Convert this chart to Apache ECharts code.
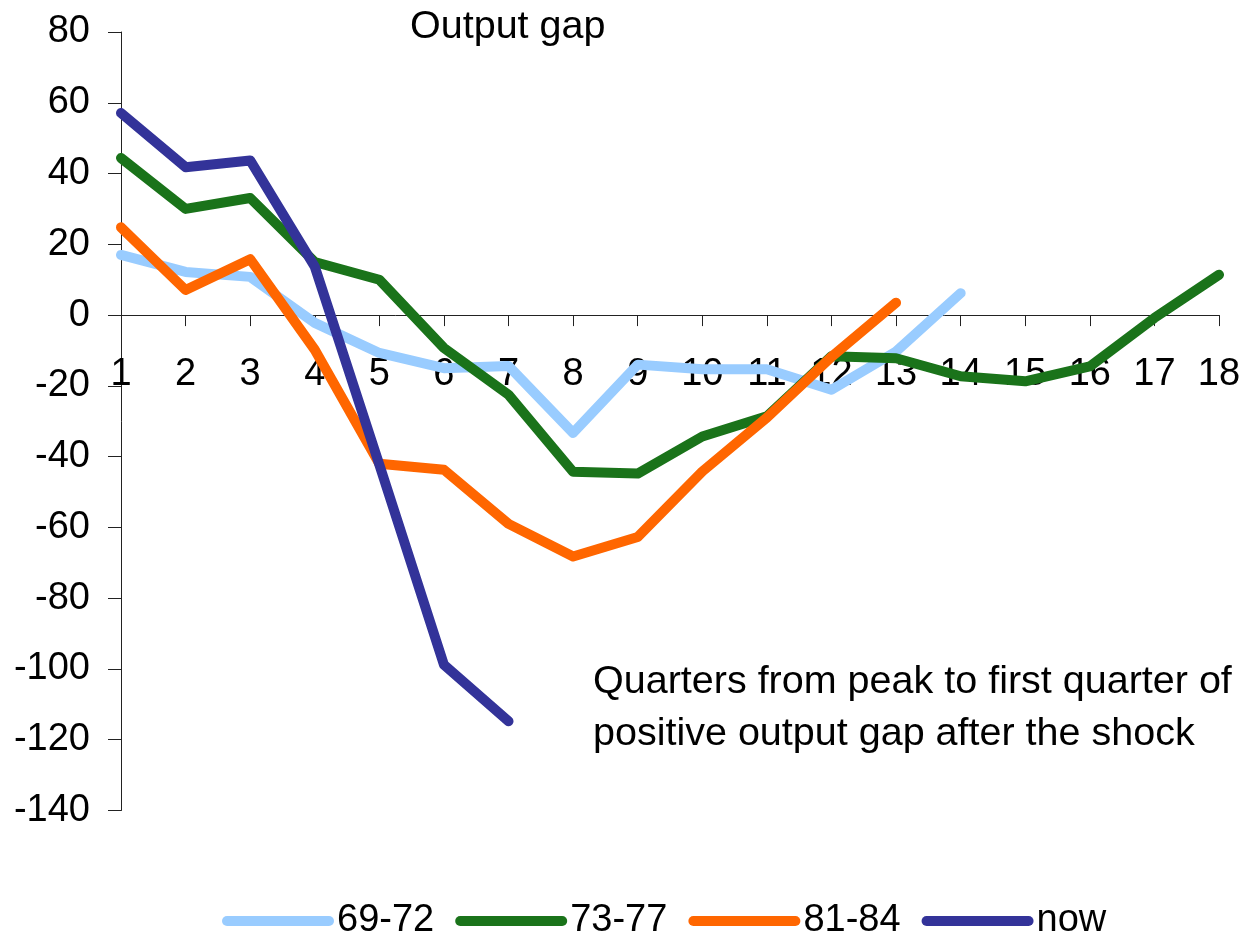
<!DOCTYPE html>
<html>
<head>
<meta charset="utf-8">
<title>Output gap</title>
<script src="https://cdn.jsdelivr.net/npm/echarts@6/dist/echarts.min.js"></script>
<style>
  html, body { margin: 0; padding: 0; background: #fff; }
  #chart { width: 1247px; height: 942px; }
</style>
</head>
<body>
<div id="chart"></div>
<script>
// Quarters after the peak
const quarters = ['1','2','3','4','5','6','7','8','9','10','11','12','13','14','15','16','17','18'];

// Output gap paths for each episode (missing quarters left empty)
const s6972 = [17, 12.2, 10.8, -2.2, -10.7, -15, -14.4, -33.3, -14, -15.3, -15.3, -21.1, -10.3, 6.2];
const s7377 = [44.4, 30, 33.1, 15, 10, -9.3, -22.5, -44.3, -44.8, -34.3, -28.6, -11.6, -12.2, -17.3, -18.7, -14.5, -0.8, 11.4];
const s8184 = [24.8, 7.1, 15.8, -9.8, -42, -43.7, -59, -68.2, -62.7, -44.2, -29, -11.8, 3.5];
const sNow  = [57.1, 41.8, 43.7, 13.7, -42.3, -98.8, -114.8];

const seriesNames = ['69-72', '73-77', '81-84', 'now'];
const seriesColors = ['#99ccff', '#1a731a', '#ff6600', '#333399'];
const seriesData = [s6972, s7377, s8184, sNow];

// y-axis range
const Y_MIN = -140, Y_MAX = 80, Y_STEP = 20;

const FONT = 'Liberation Sans, Arial, sans-serif';
const FS = 38;
const FS_NOTE = 39.5;

const GRID = { left: 121, right: 28, top: 32, bottom: 131.5 };
const plotH = 942 - GRID.top - GRID.bottom;
// shift the category axis up so it sits on the zero line
const zeroOffset = -plotH * (0 - Y_MIN) / (Y_MAX - Y_MIN);

const chart = echarts.init(document.getElementById('chart'), null, { renderer: 'canvas' });

const capsule = 'path://M5,0 H107 A5,5 0 0 1 107,10 H5 A5,5 0 0 1 5,0 Z';

chart.setOption({
  animation: false,
  backgroundColor: '#ffffff',
  grid: Object.assign({ containLabel: false }, GRID),
  legend: {
    top: 897,
    left: 217,
    itemWidth: 112,
    itemHeight: 10,
    itemGap: 21,
    icon: capsule,
    textStyle: { fontFamily: FONT, fontSize: FS, color: '#000', padding: [0, 0, 0, -2] },
    data: seriesNames.map(n => ({ name: n, icon: capsule }))
  },
  xAxis: {
    type: 'category',
    data: quarters,
    boundaryGap: false,
    offset: zeroOffset,
    axisLine: { onZero: false, lineStyle: { color: '#222', width: 1 } },
    axisTick: { show: true, length: 11, inside: false, lineStyle: { color: '#222' } },
    axisLabel: { fontFamily: FONT, fontSize: FS, color: '#000', margin: 40, interval: 0 },
    splitLine: { show: false }
  },
  yAxis: {
    type: 'value',
    min: Y_MIN,
    max: Y_MAX,
    interval: Y_STEP,
    axisLine: { show: true, lineStyle: { color: '#222', width: 1 } },
    axisTick: { show: true, length: 13, lineStyle: { color: '#222' } },
    axisLabel: { fontFamily: FONT, fontSize: FS, color: '#000', margin: 31 },
    splitLine: { show: false }
  },
  graphic: [
    {
      type: 'text',
      left: 410,
      top: 7,
      style: { text: 'Output gap', font: FS_NOTE + 'px ' + FONT, fill: '#000' }
    },
    {
      type: 'text',
      left: 593,
      top: 656,
      style: {
        text: 'Quarters from peak to first quarter of\npositive output gap after the shock',
        font: FS_NOTE + 'px ' + FONT,
        lineHeight: 52,
        fill: '#000'
      }
    }
  ],
  series: seriesNames.map((name, i) => ({
    name: name,
    type: 'line',
    data: seriesData[i],
    showSymbol: false,
    symbol: 'none',
    color: seriesColors[i],
    lineStyle: { width: 10, color: seriesColors[i], cap: 'round', join: 'round' },
    emphasis: { disabled: true },
    z: 2 + i
  }))
});
</script>
</body>
</html>
